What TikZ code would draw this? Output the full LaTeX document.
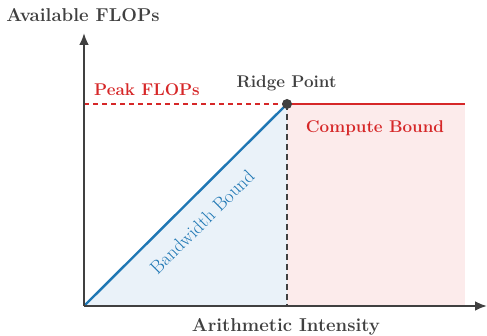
\documentclass[tikz,border=0pt]{standalone}
\usetikzlibrary{arrows.meta}
\definecolor{axisgray}{HTML}{404040}
\definecolor{bwblue}{HTML}{1F77B4}
\definecolor{cpred}{HTML}{D62728}
\definecolor{bwfill}{HTML}{EAF2F9}
\definecolor{cpfill}{HTML}{FCEBEB}
\begin{document}
\begin{tikzpicture}[x=1pt,y=1pt,
  axis/.style={draw=axisgray,line width=2.6pt,-{Latex[length=12pt,width=10pt]}},
  lbl/.style={font=\fontsize{18.6}{20}\selectfont\bfseries,text=axisgray,inner sep=0pt},
  small/.style={font=\fontsize{17}{19}\selectfont\bfseries,inner sep=0pt},
  bluelbl/.style={font=\fontsize{18.8}{20}\selectfont,text=bwblue,inner sep=0pt}]
\useasboundingbox (0,0) rectangle (487,336);
% key points
\coordinate (O) at (84,30);
\coordinate (R) at (287,232);
\coordinate (Rb) at (287,30);
\coordinate (E) at (465,232);
\coordinate (Eb) at (465,30);
\coordinate (Py) at (84,232);
\coordinate (Xend) at (487,30);
\coordinate (Yend) at (84,303);
% regions
\fill[bwfill] (O) -- (R) -- (Rb) -- cycle;
\fill[cpfill] (Rb) rectangle (E);
% guide lines
\draw[cpred,line width=1.2pt,dash pattern=on 5pt off 4pt] (Py) -- (R);
\draw[axisgray,line width=1.4pt,dash pattern=on 6pt off 4pt] (R) -- (Rb);
% roofline
\draw[bwblue,line width=2.4pt] (O) -- (R);
\draw[cpred,line width=2.4pt] (R) -- (E);
% axes
\draw[axis] (O) -- (Xend);
\draw[axis] (O) -- (Yend);
\fill[axisgray] (R) circle (5pt);
% labels
\node[lbl] (ylab) at (83,321) {Available FLOPs};
\node[lbl] (xlab) at (286,9) {Arithmetic Intensity};
\node[small,text=axisgray] (ridge) at (286.5,253) {Ridge Point};
\node[small,text=cpred] (peak) at (147,246) {Peak FLOPs};
\node[small,text=cpred] (comp) at (375,208) {Compute Bound};
\node[bluelbl,rotate=45] (bw) at (202,114) {Bandwidth Bound};
\end{tikzpicture}
\end{document}
